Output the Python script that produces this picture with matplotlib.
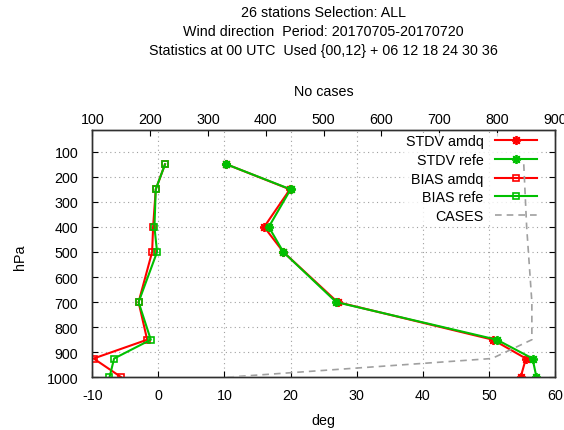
import matplotlib
matplotlib.use("Agg")
import matplotlib.pyplot as plt

plt.rcParams['font.family'] = ['Liberation Sans', 'DejaVu Sans']
plt.rcParams['axes.unicode_minus'] = False

levels = [150, 250, 400, 500, 700, 850, 925, 1000]
stdv_amdq = [10.3, 19.9, 16.0, 18.9, 27.1, 50.6, 55.6, 54.8]
stdv_refe = [10.3, 20.0, 16.7, 18.9, 26.9, 51.2, 56.6, 57.2]
bias_amdq = [1.0, -0.4, -0.8, -0.95, -3.0, -1.7, -9.8, -5.6]
bias_refe = [1.0, -0.4, -0.6, -0.2, -3.0, -1.15, -6.7, -7.4]
cases = [846, 848, 851, 854, 860, 860, 791, 331]

xticks = [-10, 0, 10, 20, 30, 40, 50, 60]
x2ticks = [100, 200, 300, 400, 500, 600, 700, 800, 900]
yticks = [100, 200, 300, 400, 500, 600, 700, 800, 900, 1000]

title_lines = ["26 stations Selection: ALL",
               "Wind direction  Period: 20170705-20170720",
               "Statistics at 00 UTC  Used {00,12} + 06 12 18 24 30 36"]

RED = '#ff0000'
GREEN = '#00c000'
GREY = '#a0a0a0'
FS = 10.3

fig = plt.figure(figsize=(5.64, 4.31), dpi=100)
W, H = 564, 431
left, right, top, bottom = 92.3, 555, 130.7, 378.3
ax = fig.add_axes([left / W, 1 - bottom / H, (right - left) / W, (bottom - top) / H])

ax.set_xlim(-10, 60)
ax.set_ylim(1000, 12)
ax.set_xticks(xticks)
ax.set_yticks(yticks)
ax.tick_params(axis='both', direction='in', length=4, labelsize=FS,
               top=False, right=True)
ax.tick_params(axis='x', pad=8)
ax.tick_params(axis='y', pad=10)
for x in xticks[1:-1]:
    ax.axvline(x, color='#a0a0a0', lw=0.8, ls=(0, (1, 3)), zorder=1)
for y in yticks[:-1]:
    ax.axhline(y, color='#a0a0a0', lw=0.8, ls=(0, (1, 3)), zorder=1)

ast = (8, 2, 0)
l1, = ax.plot(stdv_amdq, levels, color=RED, lw=1.5, marker=ast, ms=6.5, mew=1.3, zorder=4)
l2, = ax.plot(stdv_refe, levels, color=GREEN, lw=1.5, marker=ast, ms=6.5, mew=1.3, zorder=4)
l3, = ax.plot(bias_amdq, levels, color=RED, lw=1.5, marker='s', ms=4.5, mfc='none', mew=1.2, zorder=4)
l4, = ax.plot(bias_refe, levels, color=GREEN, lw=1.5, marker='s', ms=4.5, mfc='none', mew=1.2, zorder=4)

ax2 = ax.twiny()
ax2.set_xlim(100, 900)
ax2.set_xticks(x2ticks)
ax2.tick_params(axis='x', direction='in', length=4, labelsize=FS, pad=3)
l5, = ax2.plot(cases, levels, color=GREY, lw=1.2, ls=(0, (4, 3)), zorder=3)

for a in (ax, ax2):
    for s in a.spines.values():
        s.set_linewidth(1.0)
        s.set_color('#303030')

handles = [l1, l2, l3, l4, l5]
labels = ['STDV amdq', 'STDV refe', 'BIAS amdq', 'BIAS refe', 'CASES']
leg = ax2.legend(handles, labels, loc='upper right', bbox_to_anchor=(538 / W, 1 - 134 / H),
                 bbox_transform=fig.transFigure, frameon=True, fontsize=FS,
                 markerfirst=False, handlelength=2.9, handletextpad=0.8,
                 labelspacing=0.32, borderpad=0.1, borderaxespad=0)
leg.get_frame().set_edgecolor('none')
leg.get_frame().set_facecolor('white')
leg.set_zorder(2.5)

cx = ((left + right) / 2) / W
for i, t in enumerate(title_lines):
    fig.text(cx, 1 - [13, 32, 51][i] / H, t, ha='center', va='center', fontsize=FS)
fig.text(cx, 1 - 92 / H, 'No cases', ha='center', va='center', fontsize=FS)
fig.text(cx, 1 - 421 / H, 'deg', ha='center', va='center', fontsize=FS)
fig.text(20 / W, 1 - 257 / H, 'hPa', ha='center', va='center', fontsize=FS, rotation=90)

fig.savefig('out.png', dpi=100)
